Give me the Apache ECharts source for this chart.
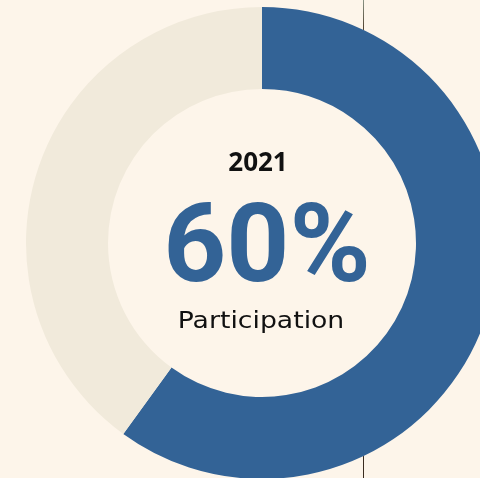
<!DOCTYPE html>
<html><head><meta charset="utf-8">
<script src="https://cdn.jsdelivr.net/npm/echarts@6/dist/echarts.min.js"></script>
<style>
html,body{margin:0;padding:0;background:#fdf5ea;}
#c{width:480px;height:478px;}
</style>
</head><body><div id="c"></div>
<script>
const categories = ['Participation', 'Non-participation'];
const values = [60, 40];
const yearLabel = '2021';
const centerLabel = 'Participation';
const colors = ['#336396', '#f1eadb'];

const cx = 262, cy = 243, rOuter = 236, rInner = 154;
const lineX = 363.5;
const dy = Math.sqrt(rOuter * rOuter - (lineX - cx) * (lineX - cx));

const chart = echarts.init(document.getElementById('c'));
chart.setOption({
  backgroundColor: '#fdf5ea',
  animation: false,
  graphic: [
    { type: 'line', z: 0, shape: { x1: lineX, y1: 0, x2: lineX, y2: cy - dy },
      style: { stroke: new echarts.graphic.LinearGradient(0, 0, 0, 1, [
        { offset: 0, color: '#8e9a8c' }, { offset: 1, color: '#4a3826' }
      ]), lineWidth: 1 } },
    { type: 'line', z: 0, shape: { x1: lineX, y1: cy + dy, x2: lineX, y2: 478 },
      style: { stroke: '#3a2c20', lineWidth: 1 } },
    { type: 'text', z: 20, x: 258, y: 151, style: { text: yearLabel, font: 'bold 26px "Noto Sans"', fill: '#111', textAlign: 'center', textVerticalAlign: 'top' } },
    { type: 'text', z: 20, x: 267, y: 198, style: { text: values[0] + '%', font: 'bold 110px Roboto', fill: colors[0], textAlign: 'center', textVerticalAlign: 'top' } },
    { type: 'text', z: 20, x: 261, y: 311, scaleX: 1.16, style: { text: centerLabel, font: '23px "DejaVu Sans"', fill: '#111', textAlign: 'center', textVerticalAlign: 'top' } }
  ],
  series: [{
    type: 'pie',
    z: 10,
    center: [cx, cy],
    radius: [rInner, rOuter],
    startAngle: 90,
    clockwise: true,
    silent: true,
    label: { show: false },
    labelLine: { show: false },
    itemStyle: { borderWidth: 0 },
    data: categories.map((c, i) => ({ name: c, value: values[i], itemStyle: { color: colors[i] } }))
  }]
});
</script></body></html>
